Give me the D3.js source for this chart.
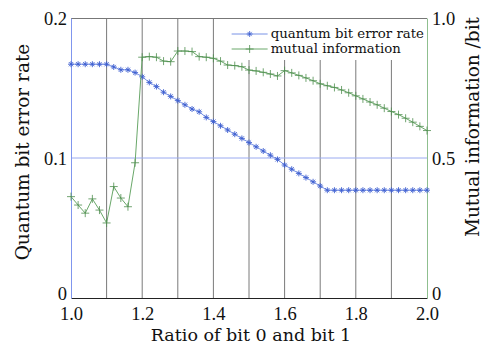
<!DOCTYPE html>
<html>
<head>
<meta charset="utf-8">
<script src="https://cdn.jsdelivr.net/npm/d3@7"></script>
<style>
  body { margin: 0; background: #fff; }
  text { font-family: "DejaVu Serif", "Liberation Serif", serif; fill: #111; }
  .tickText { font-family: "Liberation Serif", "DejaVu Serif", serif; }
</style>
</head>
<body>
<svg id="chart" width="483" height="346"></svg>
<script>
// ratio of bit 0 and bit 1 (step 0.02)
var ratios = d3.range(51).map(function(i) { return +(1 + i * 0.02).toFixed(2); });

// quantum bit error rate
var qber = [0.167, 0.167, 0.167, 0.167, 0.167, 0.167, 0.165, 0.163, 0.163, 0.161,
            0.158, 0.154, 0.151, 0.147, 0.144, 0.141, 0.138, 0.135, 0.133, 0.129,
            0.126, 0.123, 0.120, 0.117, 0.114, 0.111, 0.108, 0.105, 0.102, 0.099,
            0.095, 0.092, 0.089, 0.086, 0.083, 0.080, 0.077, 0.077, 0.077, 0.077,
            0.077, 0.077, 0.077, 0.077, 0.077, 0.077, 0.077, 0.077, 0.077, 0.077,
            0.077];

// mutual information (bit)
var mutual = [0.362, 0.332, 0.303, 0.354, 0.314, 0.268, 0.398, 0.357, 0.326, 0.483,
              0.860, 0.862, 0.860, 0.846, 0.844, 0.882, 0.882, 0.880, 0.862, 0.860,
              0.856, 0.846, 0.832, 0.830, 0.826, 0.814, 0.811, 0.806, 0.800, 0.793,
              0.812, 0.804, 0.795, 0.786, 0.776, 0.765, 0.758, 0.752, 0.743, 0.733,
              0.722, 0.711, 0.700, 0.690, 0.678, 0.666, 0.655, 0.642, 0.628, 0.613,
              0.598];

var xTicks = [1.0, 1.2, 1.4, 1.6, 1.8, 2.0];
var gridTicks = [1.1, 1.2, 1.3, 1.4, 1.5, 1.6, 1.7, 1.8, 1.9];
var leftTicks = [0, 0.1, 0.2];
var rightTicks = [0, 0.5, 1.0];
var seriesNames = ["quantum bit error rate", "mutual information"];

var w = 483, h = 346;
var margin = {top: 18, right: 56, bottom: 48, left: 71};

var svg = d3.select("#chart");

var xScale = d3.scaleLinear().domain([1, 2]).range([margin.left, w - margin.right]);
var yLeft = d3.scaleLinear().domain([0, 0.2]).range([h - margin.bottom, margin.top]);
var yRight = d3.scaleLinear().domain([0, 1]).range([h - margin.bottom, margin.top]);

var blueLine = "#7892e6", blueMark = "#3d5fd0";
var greenLine = "#6aa86a", greenMark = "#4e8e4e";

// vertical grid lines
svg.append("g")
    .selectAll("line")
    .data(gridTicks)
    .enter()
    .append("line")
    .attr("x1", function(d) { return xScale(d); })
    .attr("x2", function(d) { return xScale(d); })
    .attr("y1", yLeft(0))
    .attr("y2", yLeft(0.2))
    .attr("stroke", "#7a7a7a")
    .attr("stroke-width", 1);

// horizontal line at 0.1
svg.append("line")
    .attr("x1", xScale(1))
    .attr("x2", xScale(2))
    .attr("y1", yLeft(0.1))
    .attr("y2", yLeft(0.1))
    .attr("stroke", "#9aaaf0")
    .attr("stroke-width", 1);

// top border
svg.append("line")
    .attr("x1", xScale(1))
    .attr("x2", xScale(2))
    .attr("y1", yLeft(0.2) + 0.5)
    .attr("y2", yLeft(0.2) + 0.5)
    .attr("stroke", "#777")
    .attr("stroke-width", 1);

// legend background hides grid
var legX = xScale(1.44), legY = yLeft(0.2) + 1;
svg.append("rect")
    .attr("x", legX)
    .attr("y", legY)
    .attr("width", xScale(2) - legX - 1)
    .attr("height", 41)
    .attr("fill", "#fff");

// axes
var xAxis = d3.axisBottom(xScale)
    .tickValues(xTicks)
    .tickFormat(d3.format(".1f"))
    .tickSize(0)
    .tickPadding(9);

svg.append("g")
    .attr("class", "x axis")
    .attr("transform", "translate(0," + yLeft(0) + ")")
    .call(xAxis)
    .call(function(g) {
        g.select(".domain").attr("stroke", "#222");
        g.selectAll("text").attr("class", "tickText").attr("font-size", "18.5px").attr("font-family", null);
    });

var leftAxis = d3.axisLeft(yLeft)
    .tickValues(leftTicks)
    .tickFormat(function(d) { return d === 0 ? "0" : d3.format(".1f")(d); })
    .tickSize(0)
    .tickPadding(4);

// zero labels sit a little higher so they clear the x labels
function styleYTicks(g) {
    g.selectAll("text")
        .attr("class", "tickText")
        .attr("font-size", "18.5px")
        .attr("font-family", null)
        .attr("dy", function(d) { return d === 0 ? "0.08em" : "0.36em"; });
}

svg.append("g")
    .attr("class", "y axis")
    .attr("transform", "translate(" + xScale(1) + ",0)")
    .call(leftAxis)
    .call(function(g) {
        g.select(".domain").attr("stroke", "#8096ee");
        styleYTicks(g);
    });

var rightAxis = d3.axisRight(yRight)
    .tickValues(rightTicks)
    .tickFormat(function(d) { return d === 0 ? "0" : d3.format(".1f")(d); })
    .tickSize(0)
    .tickPadding(5);

svg.append("g")
    .attr("class", "y axis")
    .attr("transform", "translate(" + xScale(2) + ",0)")
    .call(rightAxis)
    .call(function(g) {
        g.select(".domain").attr("stroke", "#8fbf8f");
        styleYTicks(g);
    });

// marker shapes
function asterisk(r) {
    var a = r * 0.7;
    return "M" + (-r) + ",0L" + r + ",0M0," + (-r) + "L0," + r +
        "M" + (-a) + "," + (-a) + "L" + a + "," + a +
        "M" + (-a) + "," + a + "L" + a + "," + (-a);
}
function plus(r) {
    return "M" + (-r) + ",0L" + r + ",0M0," + (-r) + "L0," + r;
}

// QBER line
var lineLeft = d3.line()
    .x(function(d, i) { return xScale(ratios[i]); })
    .y(function(d) { return yLeft(d); });

svg.append("path")
    .attr("d", lineLeft(qber))
    .attr("fill", "none")
    .attr("stroke", blueLine)
    .attr("stroke-width", 1);

svg.append("g")
    .selectAll("path")
    .data(qber)
    .enter()
    .append("path")
    .attr("transform", function(d, i) { return "translate(" + xScale(ratios[i]) + "," + yLeft(d) + ")"; })
    .attr("d", asterisk(3))
    .attr("stroke", blueMark)
    .attr("stroke-width", 0.9)
    .attr("fill", "none");

// mutual information line
var lineRight = d3.line()
    .x(function(d, i) { return xScale(ratios[i]); })
    .y(function(d) { return yRight(d); });

svg.append("path")
    .attr("d", lineRight(mutual))
    .attr("fill", "none")
    .attr("stroke", greenLine)
    .attr("stroke-width", 1);

svg.append("g")
    .selectAll("path")
    .data(mutual)
    .enter()
    .append("path")
    .attr("transform", function(d, i) { return "translate(" + xScale(ratios[i]) + "," + yRight(d) + ")"; })
    .attr("d", plus(4))
    .attr("stroke", greenMark)
    .attr("stroke-width", 0.8)
    .attr("fill", "none");

// legend
var legend = svg.append("g")
    .attr("transform", "translate(" + (legX + 4) + "," + (legY + 15) + ")");

legend.selectAll("g")
    .data(seriesNames)
    .enter()
    .append("g")
    .attr("transform", function(d, i) { return "translate(0," + (i * 15) + ")"; })
    .each(function(d, i) {
        var g = d3.select(this);
        g.append("line")
            .attr("x1", 0).attr("x2", 36)
            .attr("y1", 0).attr("y2", 0)
            .attr("stroke", i === 0 ? blueLine : greenLine);
        g.append("path")
            .attr("transform", "translate(18,0)")
            .attr("d", i === 0 ? asterisk(3) : plus(4))
            .attr("stroke", i === 0 ? blueMark : greenMark)
            .attr("stroke-width", 0.8)
            .attr("fill", "none");
        g.append("text")
            .attr("x", 39)
            .attr("y", 4)
            .attr("font-size", "13.3px")
            .text(d);
    });

// axis titles
svg.append("text")
    .attr("x", (xScale(1) + xScale(2)) / 2 + 2)
    .attr("y", 341)
    .attr("text-anchor", "middle")
    .attr("font-size", "17.5px")
    .text("Ratio of bit 0 and bit 1");

svg.append("text")
    .attr("transform", "translate(29,152) rotate(-90)")
    .attr("text-anchor", "middle")
    .attr("font-size", "18.5px")
    .text("Quantum bit error rate");

svg.append("text")
    .attr("transform", "translate(479,127) rotate(-90)")
    .attr("text-anchor", "middle")
    .attr("font-size", "18.5px")
    .text("Mutual information /bit");
</script>
</body>
</html>
